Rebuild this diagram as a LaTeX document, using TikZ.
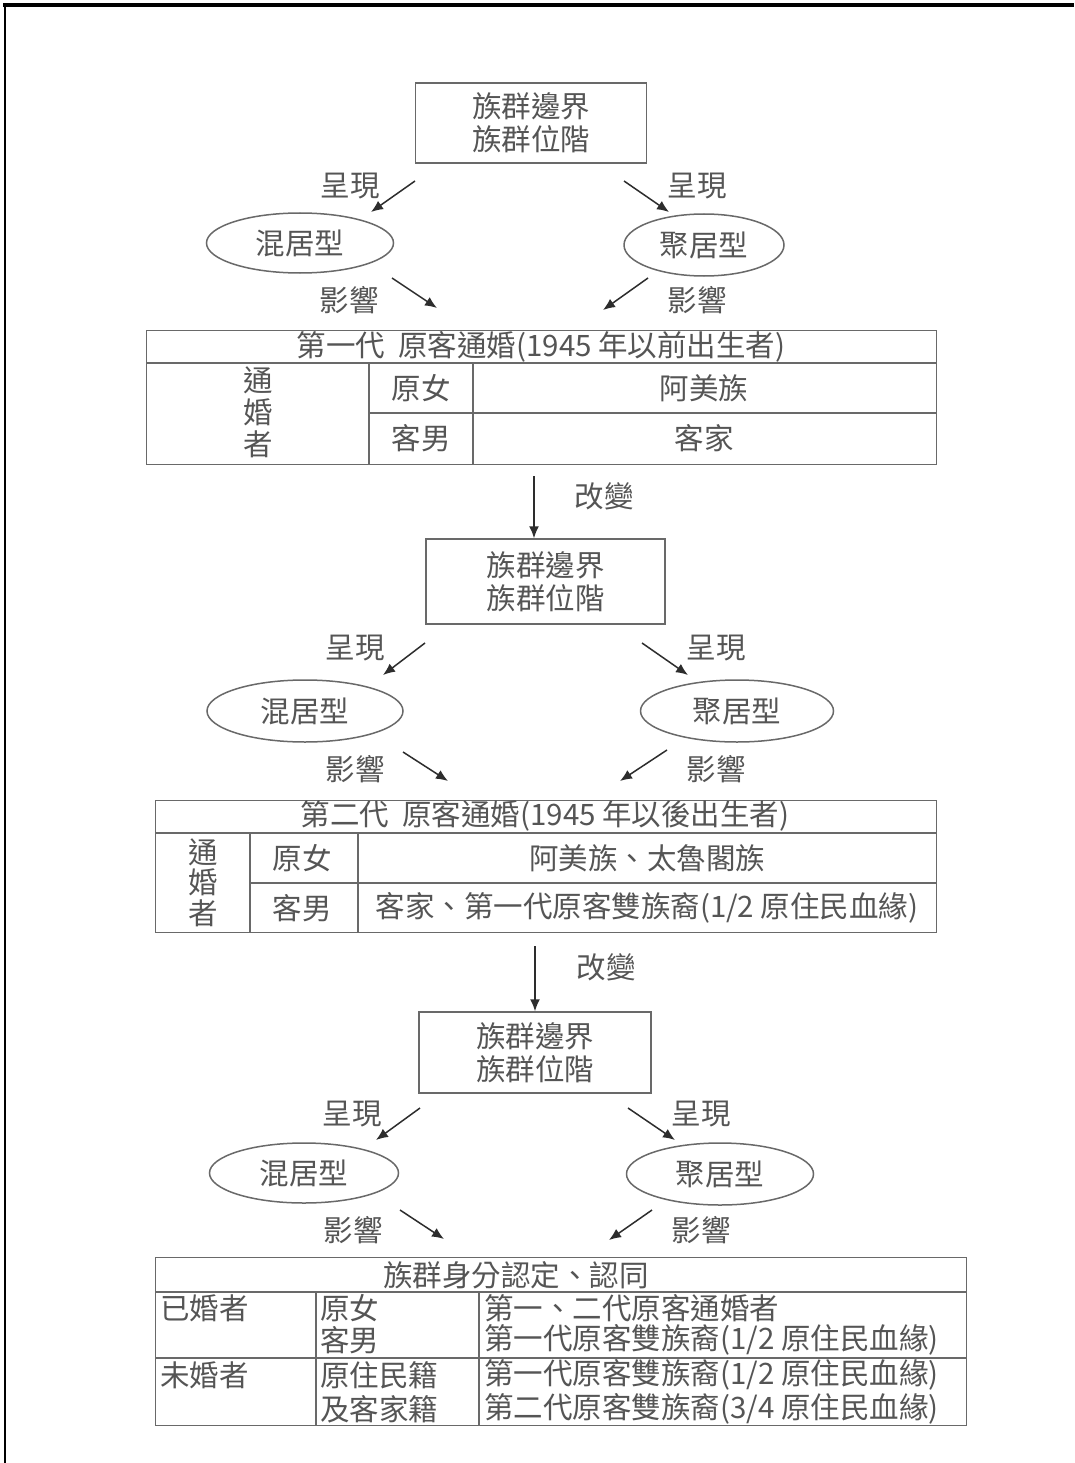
\documentclass[tikz,border=0pt]{standalone}
\usepackage{fontspec}
\setmainfont{Noto Sans CJK TC}
\usetikzlibrary{arrows.meta,shapes.geometric}
\definecolor{textgray}{RGB}{85,85,85}
\definecolor{linegray}{RGB}{105,105,105}
\definecolor{arrowgray}{RGB}{45,45,45}
\begin{document}
\begin{tikzpicture}[x=1pt,y=-1pt,
  txt/.style={text=textgray,font=\fontsize{29.5}{33}\selectfont,inner sep=0pt,align=center},
  ltxt/.style={txt,anchor=west},
  box/.style={draw=linegray,line width=1.5pt,rectangle,inner sep=0pt,text=textgray,font=\fontsize{29.5}{33}\selectfont,align=center},
  ell/.style={draw=linegray,line width=1.5pt,ellipse,inner sep=0pt,text=textgray,font=\fontsize{29.5}{33}\selectfont},
  tab/.style={draw=linegray,line width=1.4pt,rectangle,inner sep=0pt,anchor=north west},
  grid/.style={draw=linegray,line width=1.4pt},
  arr/.style={draw=arrowgray,line width=1.5pt,-{Latex[length=12pt,width=10pt]}}]
\useasboundingbox (0,0) rectangle (1074,1463);
\fill[white] (0,0) rectangle (1074,1463);
% frame
\draw[line width=3.5pt,black] (3,5) -- (1074,5);
\draw[line width=2.4pt,black] (5,4) -- (5,1463);

% ================= block 1 =================
\node[box,minimum width=231pt,minimum height=80pt] (b1) at (531,123) {族群邊界\\族群位階};
\node[ell,minimum width=187pt,minimum height=60pt] (e1l) at (300,243) {混居型};
\node[ell,minimum width=160pt,minimum height=62pt] (e1r) at (704,245) {聚居型};
\coordinate (p1ls) at (415,181); \coordinate (p1le) at (371,212);
\coordinate (p1rs) at (624,181); \coordinate (p1re) at (669,212);
\coordinate (i1ls) at (392,278); \coordinate (i1le) at (437,308);
\coordinate (i1rs) at (648,278); \coordinate (i1re) at (603,310);
\draw[arr] (p1ls) -- (p1le);
\draw[arr] (p1rs) -- (p1re);
\draw[arr] (i1ls) -- (i1le);
\draw[arr] (i1rs) -- (i1re);
\node[txt] (l1a) at (350,186) {呈現};
\node[txt] (l1b) at (697,186) {呈現};
\node[txt] (l1c) at (349,300) {影響};
\node[txt] (l1d) at (697,300) {影響};
% table 1
\node[tab,minimum width=790pt,minimum height=134pt] (t1) at (146,330) {};
\draw[grid] (146,363) -- (936,363);
\draw[grid] (369,363) -- (369,464);
\draw[grid] (473,363) -- (473,464);
\draw[grid] (369,413) -- (936,413);
\node[txt] (t1h) at (541,347) {第一代\ \ 原客通婚(1945 年以前出生者)};
\node[txt] (t1a) at (258,380) {通};
\node[txt] (t1b) at (258,412) {婚};
\node[txt] (t1c) at (258,444) {者};
\node[txt] (t1d) at (421,388) {原女};
\node[txt] (t1e) at (421,438) {客男};
\node[txt] (t1f) at (704,388) {阿美族};
\node[txt] (t1g) at (704,438) {客家};
% change arrow 1
\coordinate (c1s) at (534,476);
\node[box,minimum width=239pt,minimum height=85pt] (b2) at (545.5,581.5) {族群邊界\\族群位階};
\draw[arr] (c1s) -- (b2.north -| c1s);
\node[txt] (c1l) at (604,496) {改變};

% ================= block 2 =================
\node[ell,minimum width=196pt,minimum height=62pt] (e2l) at (305,711) {混居型};
\node[ell,minimum width=193pt,minimum height=62pt] (e2r) at (737,711) {聚居型};
\coordinate (p2ls) at (425,643); \coordinate (p2le) at (383,675);
\coordinate (p2rs) at (642,643); \coordinate (p2re) at (688,675);
\coordinate (i2ls) at (403,752); \coordinate (i2le) at (448,781);
\coordinate (i2rs) at (667,750); \coordinate (i2re) at (620,781);
\draw[arr] (p2ls) -- (p2le);
\draw[arr] (p2rs) -- (p2re);
\draw[arr] (i2ls) -- (i2le);
\draw[arr] (i2rs) -- (i2re);
\node[txt] (l2a) at (355,648) {呈現};
\node[txt] (l2b) at (716,648) {呈現};
\node[txt] (l2c) at (355,769) {影響};
\node[txt] (l2d) at (716,769) {影響};
% table 2
\node[tab,minimum width=781pt,minimum height=132pt] (t2) at (155,800) {};
\draw[grid] (155,833) -- (936,833);
\draw[grid] (250,833) -- (250,932);
\draw[grid] (358,833) -- (358,932);
\draw[grid] (250,883) -- (936,883);
\node[txt] (t2h) at (545,816) {第二代\ \ 原客通婚(1945 年以後出生者)};
\node[txt] (t2a) at (203,852) {通};
\node[txt] (t2b) at (203,882) {婚};
\node[txt] (t2c) at (203,913) {者};
\node[txt] (t2d) at (302,858) {原女};
\node[txt] (t2e) at (302,908) {客男};
\node[txt] (t2f) at (647,858) {阿美族、太魯閣族};
\node[txt] (t2g) at (647,908) {客家、第一代原客雙族裔(1/2 原住民血緣)};
% change arrow 2
\coordinate (c2s) at (535,946);
\node[box,minimum width=232pt,minimum height=81pt] (b3) at (535,1052.5) {族群邊界\\族群位階};
\draw[arr] (c2s) -- (b3.north -| c2s);
\node[txt] (c2l) at (606,967) {改變};

% ================= block 3 =================
\node[ell,minimum width=189pt,minimum height=60pt] (e3l) at (304,1173) {混居型};
\node[ell,minimum width=187pt,minimum height=62pt] (e3r) at (720,1174) {聚居型};
\coordinate (p3ls) at (420,1108); \coordinate (p3le) at (376,1140);
\coordinate (p3rs) at (628,1108); \coordinate (p3re) at (675,1140);
\coordinate (i3ls) at (400,1210); \coordinate (i3le) at (444,1239);
\coordinate (i3rs) at (652,1210); \coordinate (i3re) at (609,1240);
\draw[arr] (p3ls) -- (p3le);
\draw[arr] (p3rs) -- (p3re);
\draw[arr] (i3ls) -- (i3le);
\draw[arr] (i3rs) -- (i3re);
\node[txt] (l3a) at (352,1114) {呈現};
\node[txt] (l3b) at (701,1114) {呈現};
\node[txt] (l3c) at (353,1230) {影響};
\node[txt] (l3d) at (701,1230) {影響};
% table 3
\node[tab,minimum width=811pt,minimum height=168pt] (t3) at (155,1257) {};
\draw[grid] (155,1292) -- (966,1292);
\draw[grid] (316,1292) -- (316,1425);
\draw[grid] (479,1292) -- (479,1425);
\draw[grid] (155,1358) -- (966,1358);
\node[txt] (t3h) at (516,1275) {族群身分認定、認同};
\node[ltxt] (t3a) at (160,1308) {已婚者};
\node[ltxt] (t3b) at (320,1308) {原女};
\node[ltxt] (t3c) at (320,1340) {客男};
\node[ltxt] (t3d) at (484,1308) {第一、二代原客通婚者};
\node[ltxt] (t3e) at (484,1340) {第一代原客雙族裔(1/2 原住民血緣)};
\node[ltxt] (t3f) at (160,1375) {未婚者};
\node[ltxt] (t3g) at (320,1375) {原住民籍};
\node[ltxt] (t3h2) at (320,1409) {及客家籍};
\node[ltxt] (t3i) at (484,1375) {第一代原客雙族裔(1/2 原住民血緣)};
\node[ltxt] (t3j) at (484,1409) {第二代原客雙族裔(3/4 原住民血緣)};
\end{tikzpicture}
\end{document}
